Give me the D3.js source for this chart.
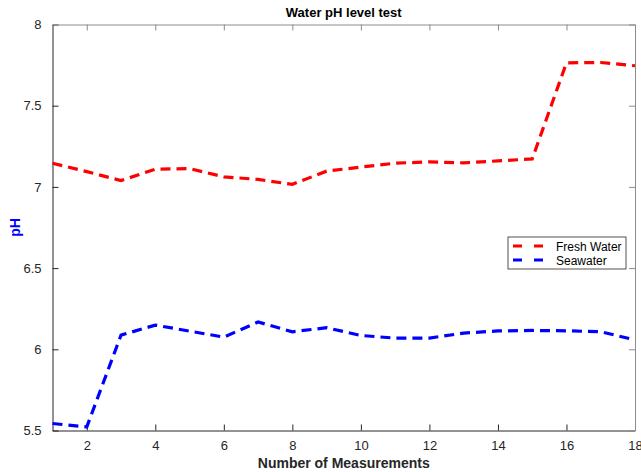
<!DOCTYPE html>
<html>
<head>
<meta charset="utf-8">
<script src="https://cdn.jsdelivr.net/npm/d3@7"></script>
<style>
	body { margin: 0; background: #fff; }
	svg { display: block; font-family: "Liberation Sans", Arial, sans-serif; }
	.tick text { font-size: 13px; fill: #262626; }
</style>
</head>
<body>
<svg id="chart"></svg>
<script>
// Measurements and readings
const measurements = d3.range(1, 19);
const freshWater = [7.146, 7.094, 7.039, 7.109, 7.113, 7.062, 7.046, 7.016, 7.097,
	7.122, 7.146, 7.154, 7.148, 7.160, 7.172, 7.764, 7.766, 7.746];
const seawater = [5.543, 5.522, 6.087, 6.149, 6.112, 6.075, 6.168, 6.108, 6.133,
	6.085, 6.069, 6.069, 6.100, 6.113, 6.116, 6.114, 6.108, 6.058];
const xTicks = [2, 4, 6, 8, 10, 12, 14, 16, 18];
const yTicks = [5.5, 6, 6.5, 7, 7.5, 8];
const seriesNames = ["Fresh Water", "Seawater"];
const seriesColors = ["#ff0000", "#0000ff"];

const WIDTH = 641, HEIGHT = 472;
const MARGIN = {top: 24.5, right: 6, bottom: 41.5, left: 52.5};
const CHART_WIDTH = WIDTH - MARGIN.left - MARGIN.right;
const CHART_HEIGHT = HEIGHT - MARGIN.top - MARGIN.bottom;

const svg = d3.select("#chart").attr("width", WIDTH).attr("height", HEIGHT);

const xScale = d3.scaleLinear().domain([1, 18]).range([0, CHART_WIDTH]);
const yScale = d3.scaleLinear().domain([5.5, 8]).range([CHART_HEIGHT, 0]);

const chart = svg.append("g").attr("transform", `translate(${MARGIN.left}, ${MARGIN.top})`);

// Box axes (MATLAB style: ticks inside, on all four sides)
chart.append("g")
	.attr("transform", `translate(0, ${CHART_HEIGHT})`)
	.call(d3.axisBottom(xScale).tickValues(xTicks).tickSize(-6).tickSizeOuter(0).tickPadding(10))
	.attr("color", "#262626");

chart.append("g")
	.call(d3.axisLeft(yScale).tickValues(yTicks).tickFormat(d3.format("")).tickSize(-6).tickSizeOuter(0).tickPadding(11))
	.attr("color", "#262626");

chart.append("g")
	.call(d3.axisTop(xScale).tickValues(xTicks).tickSize(-6).tickSizeOuter(0).tickFormat(""))
	.attr("color", "#8c8c8c");

chart.append("g")
	.attr("transform", `translate(${CHART_WIDTH}, 0)`)
	.call(d3.axisRight(yScale).tickValues(yTicks).tickSize(-6).tickSizeOuter(0).tickFormat(""))
	.attr("color", "#8c8c8c");

// Lines
const line = d3.line()
	.x((d, i) => xScale(measurements[i]))
	.y(d => yScale(d));

[freshWater, seawater].forEach((values, k) => {
	chart.append("path")
		.datum(values)
		.attr("fill", "none")
		.attr("stroke", seriesColors[k])
		.attr("stroke-width", 3.2)
		.attr("stroke-dasharray", "10,6")
		.attr("d", line);
});

// Title and labels
svg.append("text")
	.attr("x", MARGIN.left + CHART_WIDTH / 2)
	.attr("y", 17)
	.attr("text-anchor", "middle")
	.style("font-size", "13px")
	.style("font-weight", "bold")
	.attr("fill", "#000")
	.text("Water pH level test");

svg.append("text")
	.attr("x", MARGIN.left + CHART_WIDTH / 2)
	.attr("y", 468)
	.attr("text-anchor", "middle")
	.style("font-size", "14px")
	.style("font-weight", "bold")
	.attr("fill", "#262626")
	.text("Number of Measurements");

svg.append("text")
	.attr("transform", `translate(20, ${MARGIN.top + CHART_HEIGHT / 2}) rotate(-90)`)
	.attr("text-anchor", "middle")
	.style("font-size", "14px")
	.style("font-weight", "bold")
	.attr("fill", "#0000ff")
	.text("pH");

// Legend
const legend = svg.append("g").attr("transform", "translate(508, 237)");
legend.append("rect")
	.attr("width", 118).attr("height", 32)
	.attr("fill", "#fff").attr("stroke", "#262626").attr("stroke-width", 0.8);

seriesNames.forEach((name, k) => {
	const row = legend.append("g").attr("transform", `translate(0, ${9 + k * 14})`);
	row.append("line")
		.attr("x1", 5).attr("x2", 36)
		.attr("stroke", seriesColors[k])
		.attr("stroke-width", 3.2)
		.attr("stroke-dasharray", "9,12");
	row.append("text")
		.attr("x", 48).attr("y", 4.5)
		.style("font-size", "12px")
		.attr("fill", "#000")
		.text(name);
});
</script>
</body>
</html>
